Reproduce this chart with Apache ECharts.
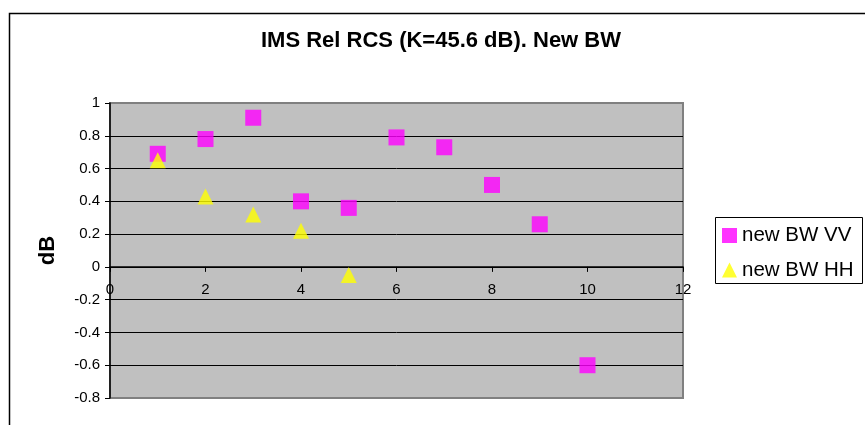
<!DOCTYPE html>
<html>
<head>
<meta charset="utf-8">
<script src="https://cdn.jsdelivr.net/npm/echarts@6/dist/echarts.min.js"></script>
<style>html,body{margin:0;padding:0;background:#fff;}#c{width:865px;height:425px;}</style>
</head>
<body>
<div id="c"></div>
<script>
var titleText = 'IMS Rel RCS (K=45.6 dB). New BW';
var yAxisName = 'dB';
var seriesNames = ['new BW VV', 'new BW HH'];
var vvX = [1, 2, 3, 4, 5, 6, 7, 8, 9, 10];
var vvY = [0.69, 0.78, 0.91, 0.40, 0.36, 0.79, 0.73, 0.50, 0.26, -0.60];
var hhX = [1, 2, 3, 4, 5];
var hhY = [0.65, 0.43, 0.32, 0.22, -0.05];
var xMin = 0, xMax = 12, xStep = 2;
var yMin = -0.8, yMax = 1, yStep = 0.2;

function pairs(xs, ys) { return xs.map(function (x, i) { return [x, ys[i]]; }); }

var gridTop = 103, gridBottom = 27, H = 425;
var plotH = H - gridTop - gridBottom;
// move the x axis (line, ticks, labels) up to the y = 0 position, as in the original
var xAxisOffset = -((0 - yMin) / (yMax - yMin)) * plotH;

var font = 'Arial, "Liberation Sans", sans-serif';
var chart = echarts.init(document.getElementById('c'), null, { renderer: 'canvas' });
chart.setOption({
  backgroundColor: '#ffffff',
  animation: false,
  title: {
    text: titleText,
    left: 441, top: 30, textAlign: 'center', padding: 0,
    textStyle: { fontFamily: font, fontSize: 22, fontWeight: 'bold', color: '#000' }
  },
  graphic: [
    { type: 'rect', silent: true, z: -1, shape: { x: 9.5, y: 13.5, width: 1000, height: 1000 },
      style: { fill: null, stroke: '#000', lineWidth: 1.5 } },
    { type: 'rect', silent: true, shape: { x: 715.5, y: 217.5, width: 147, height: 66 },
      style: { fill: '#fff', stroke: '#000', lineWidth: 1 } }
  ],
  legend: {
    orient: 'vertical', left: 715, top: 218, padding: [7, 6, 6, 7],
    itemWidth: 15, itemHeight: 15, itemGap: 13.5,
    textStyle: { fontFamily: font, fontSize: 20.5, color: '#000', lineHeight: 20 },
    data: [
      { name: seriesNames[0], icon: 'rect' },
      { name: seriesNames[1], icon: 'triangle' }
    ],
    z: 10
  },
  grid: {
    left: 110, right: 182, top: gridTop, bottom: gridBottom,
    show: true, backgroundColor: '#C0C0C0', borderColor: '#808080', borderWidth: 2
  },
  xAxis: {
    type: 'value', min: xMin, max: xMax, interval: xStep,
    position: 'bottom', offset: xAxisOffset,
    axisLine: { onZero: false, lineStyle: { color: '#000', width: 1.5 } },
    axisTick: { show: true, length: 5, lineStyle: { color: '#000' } },
    axisLabel: { fontFamily: font, fontSize: 15, color: '#000', margin: 15 },
    splitLine: { show: false }
  },
  yAxis: {
    type: 'value', min: yMin, max: yMax, interval: yStep,
    name: yAxisName, nameLocation: 'middle', nameRotate: 90, nameGap: 51,
    nameTextStyle: { fontFamily: font, fontSize: 22, fontWeight: 'bold', color: '#000' },
    axisLine: { show: true, onZero: false, lineStyle: { color: '#000', width: 1.5 } },
    axisTick: { show: true, length: 5, lineStyle: { color: '#000' } },
    axisLabel: { fontFamily: font, fontSize: 15, color: '#000', margin: 10 },
    splitLine: { show: true, showMinLine: false, showMaxLine: false, lineStyle: { color: '#000', width: 1 } }
  },
  series: [
    { name: seriesNames[0], type: 'scatter', symbol: 'rect', symbolSize: 16,
      itemStyle: { color: '#FF00FF' }, data: pairs(vvX, vvY), z: 3 },
    { name: seriesNames[1], type: 'scatter', symbol: 'triangle', symbolSize: 16,
      itemStyle: { color: '#FFFF00' }, data: pairs(hhX, hhY), z: 4 }
  ]
});
</script>
</body>
</html>
